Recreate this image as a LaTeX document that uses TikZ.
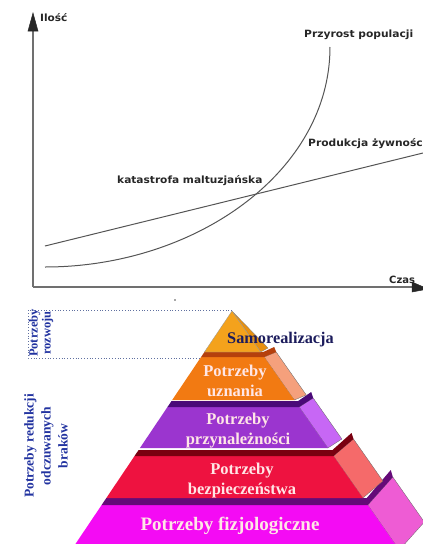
\documentclass[tikz,border=0pt]{standalone}
\usepackage{fontspec}
\usepackage{graphicx}
\setmainfont{Liberation Serif}
\newfontfamily\chartfont{DejaVu Sans}
\usetikzlibrary{arrows.meta,calc}

\definecolor{axisgray}{HTML}{707070}
\definecolor{curvegray}{HTML}{555555}
\definecolor{topfront}{HTML}{F4A21C}
\definecolor{topside}{HTML}{E8900F}
\definecolor{orfront}{HTML}{F27A12}
\definecolor{orstrip}{HTML}{B5400C}
\definecolor{orside}{HTML}{F5A07C}
\definecolor{pufront}{HTML}{9B35CF}
\definecolor{pustrip}{HTML}{4A0A78}
\definecolor{puside}{HTML}{C767F5}
\definecolor{refront}{HTML}{EE1240}
\definecolor{restrip}{HTML}{7A0010}
\definecolor{reside}{HTML}{F56A6A}
\definecolor{mafront}{HTML}{F40BF4}
\definecolor{mastrip}{HTML}{650A78}
\definecolor{maside}{HTML}{EE5CD4}
\definecolor{tiertext}{HTML}{FFE6E6}
\definecolor{samotext}{HTML}{1C1C5C}
\definecolor{bluetext}{HTML}{2233A0}
\definecolor{dotcol}{HTML}{6070A0}

% tier: #1 top of front, #2 bottom, #3 strip height, #4 #5 side vector, #6 front, #7 strip, #8 side
\newcommand\pyrtier[8]{%
  \fill[#8,draw=black!60,line width=0.3pt] ({232+0.7*(#1-311)},#1) -- ++(#4,#5) -- ({232+0.7*(#2-311)+#4},{#2+#5}) -- ({232+0.7*(#2-311)},#2) -- cycle;
  \fill[#6] ({232-0.672*(#1-311)},#1) -- ({232+0.7*(#1-311)},#1) -- ({232+0.7*(#2-311)},#2) -- ({232-0.672*(#2-311)},#2) -- cycle;
  \fill[#7] ({232-0.672*(#1-311)},#1) -- ({232+0.7*(#1-311)},#1) -- ++(#4,#5) -- ++(-2,-#3) -- ({232+0.7*(#1-311)-1},{#1-#3}) -- ({232-0.672*(#1-#3-311)},{#1-#3}) -- cycle;
}

\tikzset{
  axisline/.style={draw=axisgray,line width=1.3pt},
  curve/.style={draw=curvegray,line width=1pt},
  chartlbl/.style={font=\chartfont\bfseries\fontsize{10}{12}\selectfont,text=black!85,inner sep=0pt,anchor=west},
  tierlbl/.style={font=\bfseries\fontsize{16.5}{20}\selectfont,text=tiertext,align=center,inner sep=0pt},
  sidelbl/.style={font=\bfseries,text=bluetext,align=center,inner sep=0pt,rotate=90},
  dotbox/.style={draw=dotcol,line width=0.8pt,dotted}
}

\begin{document}
\begin{tikzpicture}[x=1pt,y=-1pt]
\useasboundingbox (0,0) rectangle (423,544);

% ---------- chart ----------
\coordinate (O) at (33,287);
\coordinate (ytop) at (33,26);
\coordinate (xend) at (414,287);
\draw[axisline] (O) -- (ytop);
\draw[axisline] (O) -- (xend);
\coordinate (yt) at (33,13);
\coordinate (xt) at (428,289);
\filldraw[black!85,line width=0.5pt] (yt) -- (28,31) -- (38,31) -- cycle;
\filldraw[black!85,line width=0.5pt] (xt) -- (412,282) -- (412,292) -- cycle;

\coordinate (ps) at (45,267);
\coordinate (pe) at (330,47);
\draw[curve] (ps) .. controls (195,267) and (330,172) .. (pe);
\coordinate (fs) at (45,246);
\coordinate (fe) at (423,153);
\draw[curve] (fs) -- (fe);

\node[chartlbl] (ilosc) at (40,18) {\scalebox{1.05}[1]{Ilość}};
\node[chartlbl] (przyrost) at (304,35) {\scalebox{1.07}[1]{Przyrost populacji}};
\node[chartlbl] (produkcja) at (308,144) {\scalebox{1.07}[1]{Produkcja żywności}};
\node[chartlbl] (katastrofa) at (117,181) {\scalebox{1.06}[1]{katastrofa maltuzjańska}};
\node[chartlbl] (czas) at (389,280) {\scalebox{1.0}[1]{Czas}};

\fill[black!70] (175,300) circle (0.8);

% ---------- pyramid ----------
\pyrtier{505}{550}{7}{25}{-28}{mafront}{mastrip}{maside}
\pyrtier{456}{498}{6}{20}{-17}{refront}{restrip}{reside}
\pyrtier{407}{448}{6}{14}{-9}{pufront}{pustrip}{puside}
\pyrtier{357}{400}{5}{12}{-5}{orfront}{orstrip}{orside}

\coordinate (apex) at (232,311);
\fill[topside,draw=black!50,line width=0.3pt] (apex) -- (260.7,352) -- (268,348) -- cycle;
\fill[topfront,draw=black!40,line width=0.3pt] (apex) -- (204.4,352) -- (260.7,352) -- cycle;

% dotted box
\coordinate (bx1) at (28,310);
\coordinate (bx2) at (28,358);
\coordinate (bx3) at (201,358);
\draw[dotbox] (apex |- bx1) -- (bx1) -- (bx2) -- (bx3);

% labels
\node[font=\bfseries\fontsize{16.3}{20}\selectfont,text=samotext,anchor=west,inner sep=0pt] (samo) at (227,340) {Samorealizacja};
\node[tierlbl] (uznania) at (235,381) {Potrzeby\\uznania};
\node[tierlbl] (przyn) at (238,431) {Potrzeby\\przynależności};
\node[tierlbl] (bezp) at (242,481) {Potrzeby\\bezpieczeństwa};
\node[tierlbl,font=\bfseries\fontsize{19}{22}\selectfont] (fizjo) at (230,526) {Potrzeby fizjologiczne};

\node[sidelbl,font=\bfseries\fontsize{12.5}{13}\selectfont] (rozwoj) at (41,333) {Potrzeby\\rozwoju};
\node[sidelbl,font=\bfseries\fontsize{13.5}{17}\selectfont] (redukcja) at (46,446) {Potrzeby redukcji\\odczuwanych\\braków};
\end{tikzpicture}
\end{document}
